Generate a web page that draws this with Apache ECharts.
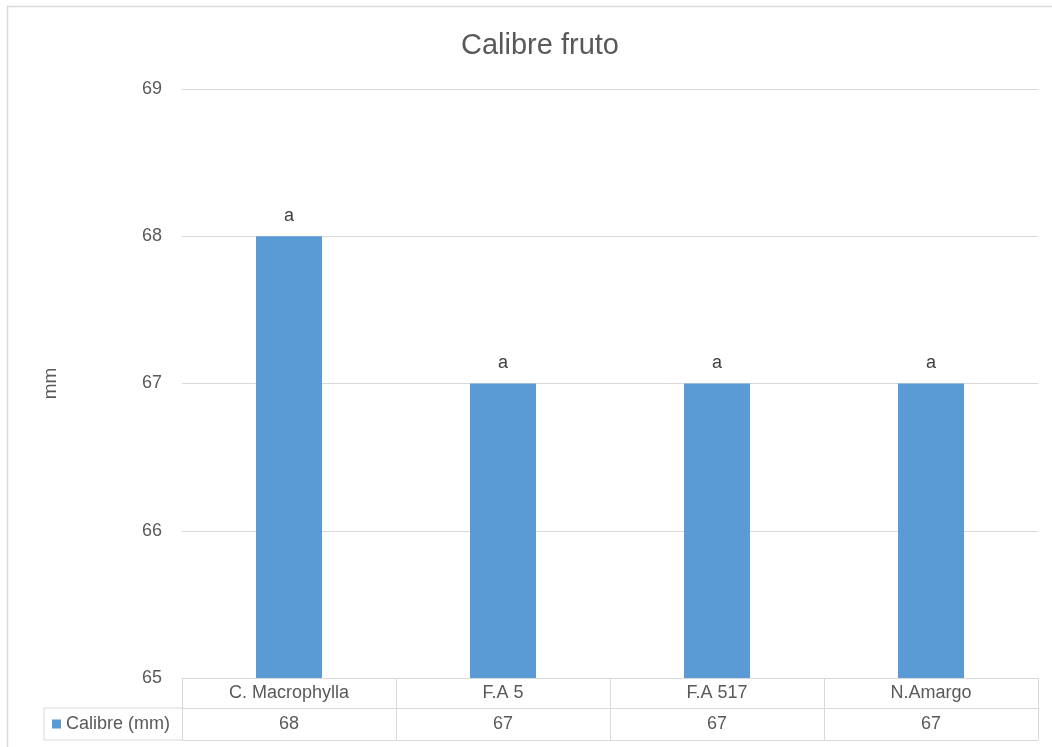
<!DOCTYPE html>
<html>
<head>
<meta charset="utf-8">
<script src="https://cdn.jsdelivr.net/npm/echarts@6/dist/echarts.min.js"></script>
<style>
html,body{margin:0;padding:0;background:#fff;}
#chart{width:1052px;height:747px;}
</style>
</head>
<body>
<div id="chart"></div>
<script>
const categories = ['C. Macrophylla', 'F.A 5', 'F.A 517', 'N.Amargo'];
const values = [68, 67, 67, 67];
const letters = ['a', 'a', 'a', 'a'];
const seriesName = 'Calibre (mm)';
const titleText = 'Calibre fruto';
const yAxisName = 'mm';
const yTicks = [65, 66, 67, 68, 69];

const FONT = 'Liberation Sans';
const TXT = '#595959';
const LINE = '#d9d9d9';
const BAR = '#5b9bd5';

const chart = echarts.init(document.getElementById('chart'));
const option = {
  animation: false,
  textStyle: { fontFamily: FONT },
  title: {
    text: titleText, left: 535, top: 26, textAlign: 'center',
    textStyle: { fontFamily: FONT, fontSize: 29, fontWeight: 'normal', color: TXT }
  },
  legend: {
    data: [seriesName], left: 47, top: 710,
    icon: 'rect', itemWidth: 9, itemHeight: 9,
    textStyle: { fontFamily: FONT, fontSize: 18, color: TXT }
  },
  grid: { left: 182, right: 14, top: 89, bottom: 69 },
  xAxis: [
    {
      type: 'category', data: categories, position: 'bottom',
      axisLine: { show: true, lineStyle: { color: LINE, width: 1 } },
      axisTick: { show: true, length: 62, lineStyle: { color: LINE } },
      axisLabel: { color: TXT, fontSize: 18, margin: 6, fontFamily: FONT }
    },
    {
      type: 'category', data: categories, position: 'bottom', offset: 30,
      axisLine: { show: true, lineStyle: { color: LINE, width: 1 } },
      axisTick: { show: false },
      axisLabel: {
        color: TXT, fontSize: 18, margin: 7, fontFamily: FONT,
        formatter: (v, i) => String(values[i])
      }
    },
    {
      type: 'category', data: categories, position: 'bottom', offset: 62,
      axisLine: { show: true, lineStyle: { color: LINE, width: 1 } },
      axisTick: { show: false }, axisLabel: { show: false }
    }
  ],
  yAxis: {
    type: 'value', min: yTicks[0], max: yTicks[yTicks.length - 1], interval: 1,
    name: yAxisName, nameLocation: 'middle', nameGap: 122, nameRotate: 90,
    nameTextStyle: { color: TXT, fontSize: 19, fontFamily: FONT },
    axisLine: { show: false }, axisTick: { show: false },
    axisLabel: { color: TXT, fontSize: 18, margin: 20, fontFamily: FONT },
    splitLine: { lineStyle: { color: LINE, width: 1 } }
  },
  series: [{
    name: seriesName, type: 'bar', data: values, barWidth: 66,
    itemStyle: { color: BAR },
    label: {
      show: true, position: 'top', distance: 11,
      formatter: p => letters[p.dataIndex],
      color: '#404040', fontSize: 18, fontFamily: FONT
    }
  }]
};
chart.setOption(option);

// table legend cell borders + outer chart border
const grid = chart.getModel().getComponent('grid').coordinateSystem.getRect();
const bottom = grid.y + grid.height;
chart.setOption({
  graphic: [
    { type: 'rect', shape: { x: 7.5, y: 6.5, width: 1200, height: 900 },
      style: { fill: 'none', stroke: LINE, lineWidth: 1.5 }, silent: true, z: -10 },
    { type: 'line', shape: { x1: 44, y1: bottom + 30, x2: grid.x, y2: bottom + 30 },
      style: { stroke: LINE, lineWidth: 1 } },
    { type: 'line', shape: { x1: 44, y1: bottom + 62, x2: grid.x, y2: bottom + 62 },
      style: { stroke: LINE, lineWidth: 1 } },
    { type: 'line', shape: { x1: 44, y1: bottom + 30, x2: 44, y2: bottom + 62 },
      style: { stroke: LINE, lineWidth: 1 } }
  ]
});
</script>
</body>
</html>
